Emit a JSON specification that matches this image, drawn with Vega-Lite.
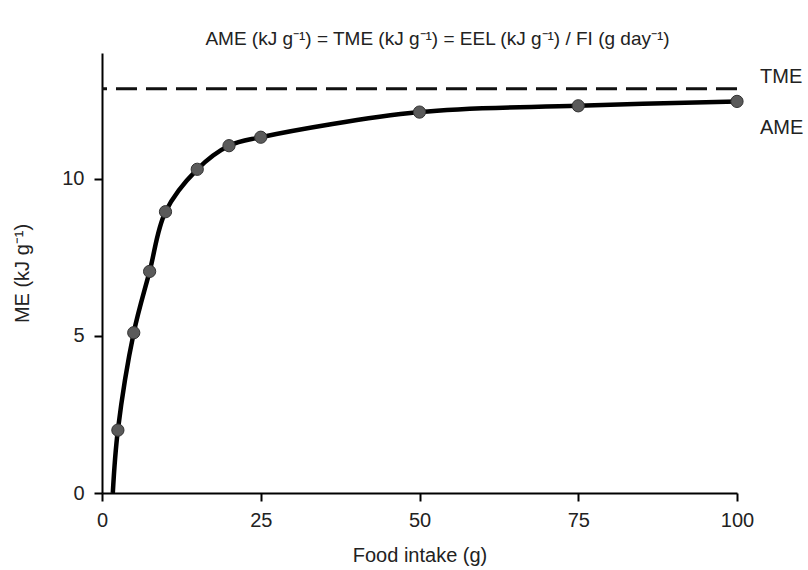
{
  "$schema": "https://vega.github.io/schema/vega-lite/v6.json",
  "width": 635,
  "height": 440,
  "autosize": {"type": "none"},
  "padding": {"left": 102, "top": 53, "right": 71, "bottom": 77},
  "background": "white",
  "title": {
    "text": "AME (kJ g⁻¹) = TME (kJ g⁻¹) = EEL (kJ g⁻¹) / FI (g day⁻¹)",
    "font": "Liberation Sans",
    "fontSize": 19,
    "fontWeight": "normal",
    "color": "#222222",
    "anchor": "middle",
    "offset": 4,
    "dx": 18
  },
  "datasets": {
    "obs": [
      {"fi": 2.5, "me": 2.0},
      {"fi": 5, "me": 5.1},
      {"fi": 7.5, "me": 7.05},
      {"fi": 10, "me": 8.95},
      {"fi": 15, "me": 10.3},
      {"fi": 20, "me": 11.05},
      {"fi": 25, "me": 11.32},
      {"fi": 50, "me": 12.12},
      {"fi": 75, "me": 12.32},
      {"fi": 100, "me": 12.46}
    ],
    "curve": [
      {"fi": 1.7, "me": 0},
      {"fi": 2.5, "me": 2.0},
      {"fi": 5, "me": 5.1},
      {"fi": 7.5, "me": 7.05},
      {"fi": 10, "me": 8.95},
      {"fi": 15, "me": 10.3},
      {"fi": 20, "me": 11.05},
      {"fi": 25, "me": 11.32},
      {"fi": 50, "me": 12.12},
      {"fi": 75, "me": 12.32},
      {"fi": 100, "me": 12.46}
    ],
    "tme": [{"level": 12.86}],
    "labels": [
      {"fi": 100, "me": 13.25, "label": "TME"},
      {"fi": 100, "me": 11.61, "label": "AME"}
    ]
  },
  "layer": [
    {
      "data": {"name": "tme"},
      "mark": {"type": "rule", "stroke": "#111111", "strokeWidth": 3, "strokeDash": [21, 9]},
      "encoding": {
        "y": {"field": "level", "type": "quantitative", "scale": {"domain": [0, 14]}}
      }
    },
    {
      "data": {"name": "curve"},
      "mark": {"type": "line", "interpolate": "catmull-rom", "stroke": "#000000", "strokeWidth": 4.5},
      "encoding": {
        "x": {"field": "fi", "type": "quantitative"},
        "y": {"field": "me", "type": "quantitative"}
      }
    },
    {
      "data": {"name": "obs"},
      "mark": {"type": "point", "filled": true, "fill": "#5a5a5a", "stroke": "#333333", "strokeWidth": 1, "opacity": 1, "size": 150},
      "encoding": {
        "x": {"field": "fi", "type": "quantitative"},
        "y": {"field": "me", "type": "quantitative"}
      }
    },
    {
      "data": {"name": "labels"},
      "mark": {"type": "text", "align": "left", "baseline": "middle", "dx": 23, "font": "Liberation Sans", "fontSize": 20, "fill": "#222222"},
      "encoding": {
        "x": {"field": "fi", "type": "quantitative"},
        "y": {"field": "me", "type": "quantitative"},
        "text": {"field": "label"}
      }
    }
  ],
  "encoding": {
    "x": {
      "type": "quantitative",
      "scale": {"domain": [0, 100], "nice": false, "zero": true},
      "axis": {
        "title": "Food intake (g)",
        "values": [0, 25, 50, 75, 100],
        "grid": false,
        "labelFlush": false,
        "domainColor": "#000000",
        "domainWidth": 2,
        "tickColor": "#000000",
        "tickWidth": 2,
        "tickSize": 8,
        "labelFont": "Liberation Sans",
        "labelFontSize": 20,
        "labelColor": "#222222",
        "labelPadding": 9,
        "titleFont": "Liberation Sans",
        "titleFontSize": 20,
        "titleFontWeight": "normal",
        "titleColor": "#222222",
        "titlePadding": 15
      }
    },
    "y": {
      "type": "quantitative",
      "scale": {"domain": [0, 14], "nice": false},
      "axis": {
        "title": "ME (kJ g⁻¹)",
        "values": [0, 5, 10],
        "grid": false,
        "labelFlush": false,
        "domainColor": "#000000",
        "domainWidth": 2,
        "tickColor": "#000000",
        "tickWidth": 2,
        "tickSize": 8,
        "labelFont": "Liberation Sans",
        "labelFontSize": 20,
        "labelColor": "#222222",
        "labelPadding": 10,
        "titleFont": "Liberation Sans",
        "titleFontSize": 20,
        "titleFontWeight": "normal",
        "titleColor": "#222222",
        "titlePadding": 29
      }
    }
  },
  "config": {"view": {"stroke": null}}
}
